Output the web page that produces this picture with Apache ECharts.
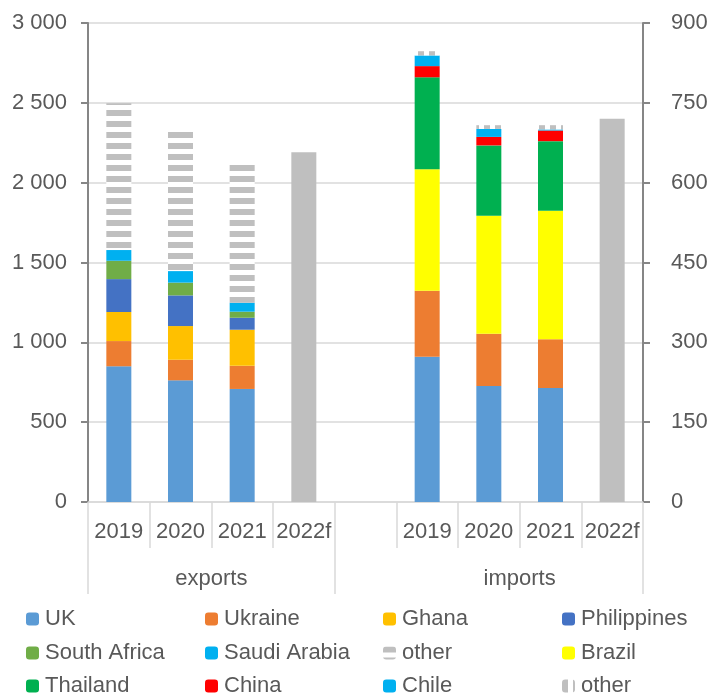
<!DOCTYPE html>
<html>
<head>
<meta charset="utf-8">
<script src="https://cdn.jsdelivr.net/npm/echarts@6/dist/echarts.min.js"></script>
<style>
  html, body { margin: 0; padding: 0; background: #fff; }
  #chart { width: 713px; height: 695px; }
</style>
</head>
<body>
<div id="chart"></div>
<script>
// categories on the x axis (blank slot between the two groups)
var categories = ['2019', '2020', '2021', '2022f', '', '2019', '2020', '2021', '2022f'];
var groupNames = ['exports', 'imports'];

// exports, thousand tonnes (left axis), 2019-2021
var expUK = [850, 762, 708];
var expUkraine = [158, 129, 145];
var expGhana = [182, 211, 226];
var expPhilippines = [206, 192, 75];
var expSouthAfrica = [115, 80, 38];
var expSaudiArabia = [67, 72, 56];
var expOther = [919, 894, 882];
var expForecast = 2190;

// imports, thousand tonnes (right axis), 2019-2021
var impUK = [273, 218, 214];
var impUkraine = [124, 98, 92];
var impBrazil = [228, 222, 241];
var impThailand = [173, 132, 131];
var impChina = [21, 16, 20];
var impChile = [20, 15, 2];
var impOther = [8, 7, 8];
var impForecast = 720;

// legend order, row by row
var legendNames = [
    'UK', 'Ukraine', 'Ghana', 'Philippines',
    'South Africa', 'Saudi Arabia', 'other', 'Brazil',
    'Thailand', 'China', 'Chile', 'other (imports)'
];

var GREY = '#595959';
var FONT = 'Liberation Sans, Arial, sans-serif';

function expRow(vals) { return vals.concat([null, null, null, null, null, null]); }
function impRow(vals) { return [null, null, null, null, null].concat(vals).concat([null]); }

// striped fills for the two "other" series
function stripes(horizontal) {
    var c = document.createElement('canvas');
    c.width = horizontal ? 4 : 11;
    c.height = horizontal ? 11 : 4;
    var ctx = c.getContext('2d');
    ctx.fillStyle = '#ffffff';
    ctx.fillRect(0, 0, c.width, c.height);
    ctx.fillStyle = '#bfbfbf';
    if (horizontal) ctx.fillRect(0, 0, 4, 6);
    else ctx.fillRect(0, 0, 6, 4);
    return { image: c, repeat: 'repeat' };
}

function bar(name, data, color, axis) {
    return {
        name: name,
        type: 'bar',
        stack: 'all',
        xAxisIndex: 0,
        yAxisIndex: axis,
        barWidth: 25,
        data: data,
        itemStyle: { color: color },
        emphasis: { disabled: true }
    };
}

var forecastExp = [null, null, null, expForecast, null, null, null, null, null];
var forecastImp = [null, null, null, null, null, null, null, null, impForecast];

var series = [
    bar('UK', expRow(expUK), '#5b9bd5', 0),
    bar('Ukraine', expRow(expUkraine), '#ed7d31', 0),
    bar('Ghana', expRow(expGhana), '#ffc000', 0),
    bar('Philippines', expRow(expPhilippines), '#4472c4', 0),
    bar('South Africa', expRow(expSouthAfrica), '#70ad47', 0),
    bar('Saudi Arabia', expRow(expSaudiArabia), '#00b0f0', 0),
    bar('other', expRow(expOther), stripes(true), 0),
    bar('forecast', forecastExp, '#bfbfbf', 0),
    bar('UK', impRow(impUK), '#5b9bd5', 1),
    bar('Ukraine', impRow(impUkraine), '#ed7d31', 1),
    bar('Brazil', impRow(impBrazil), '#ffff00', 1),
    bar('Thailand', impRow(impThailand), '#00b050', 1),
    bar('China', impRow(impChina), '#ff0000', 1),
    bar('Chile', impRow(impChile), '#00b0f0', 1),
    bar('other (imports)', impRow(impOther), stripes(false), 1),
    bar('forecast', forecastImp, '#bfbfbf', 1)
];

// one legend per entry so the 4 x 3 grid lines up like the original
var colLeft = [26, 205, 383, 562];
var rowTop = [608, 642, 675];
var legends = legendNames.map(function (n, i) {
    return {
        left: colLeft[i % 4],
        top: rowTop[Math.floor(i / 4)],
        padding: 0,
        itemWidth: 13,
        itemHeight: 13,
        selectedMode: false,
        data: [n],
        formatter: function (s) { return s.indexOf('other') === 0 ? 'other' : s; },
        textStyle: { color: GREY, fontSize: 22, fontFamily: FONT, lineHeight: 20, padding: [0, 0, 0, 1] }
    };
});

function thousands(v) { return String(v).replace(/\B(?=(\d{3})+(?!\d))/g, ' '); }

var option = {
    animation: false,
    grid: { left: 88, right: 70, top: 23, bottom: 193 },
    legend: legends,
    xAxis: [
        {
            type: 'category',
            data: categories,
            position: 'bottom',
            axisLine: { lineStyle: { color: '#d9d9d9', width: 1.5 } },
            axisTick: { show: true, interval: 0, length: 46, lineStyle: { color: '#d9d9d9', width: 1.5 } },
            axisLabel: { interval: 0, margin: 19, color: GREY, fontSize: 22, fontFamily: FONT }
        },
        {
            type: 'value',
            position: 'bottom',
            offset: 0,
            min: 0,
            max: 9,
            axisLine: { show: false },
            splitLine: { show: false },
            axisTick: { show: true, customValues: [0, 4, 9], length: 92, lineStyle: { color: '#d9d9d9', width: 1.5 } },
            axisLabel: {
                customValues: [2, 7],
                margin: 66,
                color: GREY, fontSize: 22, fontFamily: FONT,
                formatter: function (v) { return v < 4 ? groupNames[0] : groupNames[1]; }
            }
        }
    ],
    yAxis: [
        {
            type: 'value',
            min: 0, max: 3000, interval: 500,
            axisLine: { show: true, lineStyle: { color: '#868686', width: 2 } },
            axisTick: { show: true, length: 7, lineStyle: { color: '#868686', width: 2 } },
            splitLine: { lineStyle: { color: '#d9d9d9', width: 1.5 } },
            axisLabel: { margin: 21, color: GREY, fontSize: 22, fontFamily: FONT, formatter: thousands }
        },
        {
            type: 'value',
            min: 0, max: 900, interval: 150,
            position: 'right',
            axisLine: { show: true, lineStyle: { color: '#868686', width: 2 } },
            axisTick: { show: true, length: 7, lineStyle: { color: '#868686', width: 2 } },
            splitLine: { show: false },
            axisLabel: { margin: 28, color: GREY, fontSize: 22, fontFamily: FONT, formatter: thousands }
        }
    ],
    series: series
};

var myChart = echarts.init(document.getElementById('chart'));
myChart.setOption(option);
</script>
</body>
</html>
